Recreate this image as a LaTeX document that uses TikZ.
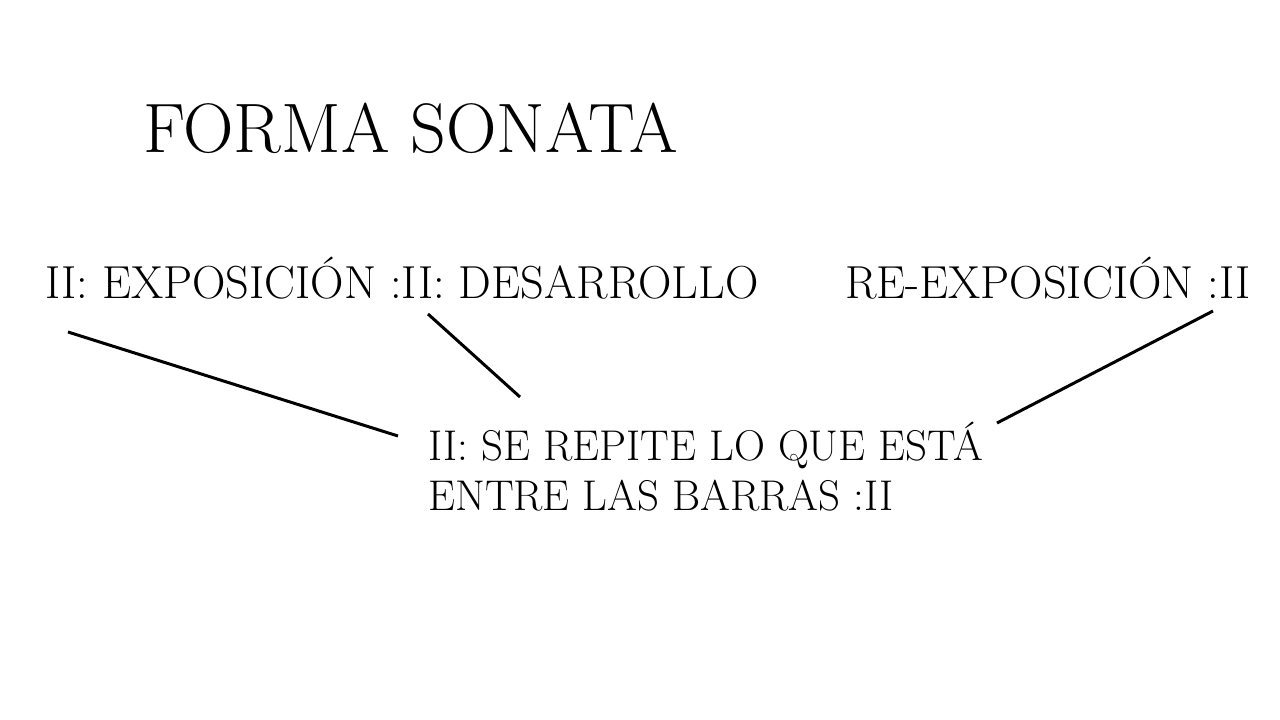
\documentclass[tikz,border=0pt]{standalone}
\usepackage{fontspec}
\usetikzlibrary{positioning}

\tikzset{
  titletext/.style={anchor=base west, inner sep=0pt, font=\fontsize{70}{70}\selectfont},
  parttext/.style={anchor=base west, inner sep=0pt, font=\fontsize{46.3}{46.3}\selectfont},
  notetext/.style={anchor=base west, inner sep=0pt, font=\fontsize{43}{43}\selectfont},
  pointer/.style={line width=3pt}
}

\begin{document}
\begin{tikzpicture}[x=1pt,y=-1pt]
        \useasboundingbox[fill=white] (0,0) rectangle (1280,720);

        \node[titletext] (title) at (143,152) {FORMA SONATA};

        \node[parttext] (expo) at (45,298) {II: EXPOSICIÓN :II: DESARROLLO};
        \node[parttext] (reexpo) at (845,298) {RE-EXPOSICIÓN :II};

        \node[notetext] (note1) at (428,460) {II: SE REPITE LO QUE ESTÁ};
        \node[notetext] (note2) at (428,510) {ENTRE LAS BARRAS :II};

        \coordinate (expoend) at (68,332);
        \coordinate (desend) at (428,314);
        \coordinate (reend) at (1213,311);
        \coordinate (noteA) at (398,436);
        \coordinate (noteB) at (520,397);
        \coordinate (noteC) at (997,423);

        \draw[pointer] (expoend) -- (noteA);
        \draw[pointer] (desend) -- (noteB);
        \draw[pointer] (reend) -- (noteC);
    \end{tikzpicture}
\end{document}
